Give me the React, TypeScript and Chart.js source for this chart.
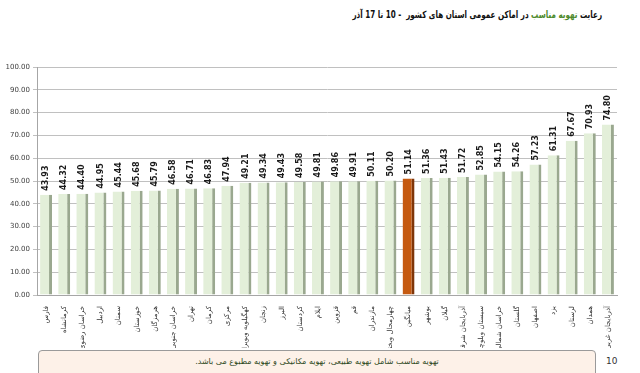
import React, { useEffect, useRef } from "react";
import { Chart, registerables } from "chart.js";

Chart.register(...registerables);

const provinces = [
  "فارس", "کرمانشاه", "خراسان رضوی", "اردبیل", "سمنان", "خوزستان", "هرمزگان",
  "خراسان جنوبی", "تهران", "کرمان", "مرکزی", "کهگیلویه وبویراحمد", "زنجان", "البرز",
  "کردستان", "ایلام", "قزوین", "قم", "مازندران", "چهارمحال وبختیاری", "میانگین",
  "بوشهر", "گیلان", "آذربایجان شرقی", "سیستان وبلوچستان", "خراسان شمالی", "گلستان",
  "اصفهان", "یزد", "لرستان", "همدان", "آذربایجان غربی",
];

const values = [
  43.93, 44.32, 44.4, 44.95, 45.44, 45.68, 45.79, 46.58, 46.71, 46.83, 47.94,
  49.21, 49.34, 49.43, 49.58, 49.81, 49.86, 49.91, 50.11, 50.2, 51.14, 51.36,
  51.43, 51.72, 52.85, 54.15, 54.26, 57.23, 61.31, 67.67, 70.93, 74.8,
];

const highlightLabel = "میانگین";
const yMin = 0;
const yMax = 100;
const yStep = 10;

const titleBlack1 = "رعایت ";
const titleGreen = "تهویه مناسب";
const titleBlack2 = " در اماکن عمومی استان های کشور  - 10 تا 17 آذر";
const noteText = "تهویه مناسب شامل تهویه طبیعی، تهویه مکانیکی و تهویه مطبوع می باشد.";
const pageNumber = "10";

const valueLabelPlugin = {
  id: "valueLabels",
  afterDraw(chart: any) {
    const ctx: CanvasRenderingContext2D = chart.ctx;
    const meta = chart.getDatasetMeta(0);
    ctx.save();
    ctx.font = "bold 8px 'DejaVu Sans'";
    ctx.fillStyle = "#1a1a1a";
    ctx.textAlign = "left";
    ctx.textBaseline = "middle";
    meta.data.forEach((bar: any, i: number) => {
      const v = chart.data.datasets[0].data[i] as number;
      ctx.save();
      ctx.translate(bar.x, bar.y - 4);
      ctx.rotate(-Math.PI / 2);
      ctx.fillText(v.toFixed(2), 0, 0);
      ctx.restore();
    });
    ctx.restore();
  },
};

export default function App() {
  const ref = useRef<HTMLCanvasElement | null>(null);

  useEffect(() => {
    document.body.style.margin = "0";
    const canvas = ref.current;
    if (!canvas) return;
    const bg = provinces.map((p) => (p === highlightLabel ? "#c55a11" : "#e3efd9"));
    const bd = provinces.map((p) => (p === highlightLabel ? "#7f3508" : "#9aa88f"));
    const chart = new Chart(canvas, {
      type: "bar",
      data: {
        labels: provinces,
        datasets: [
          {
            data: values,
            backgroundColor: bg,
            borderColor: bd,
            borderWidth: { top: 0, right: 3, bottom: 0, left: 0 } as any,
            borderSkipped: false as any,
            barPercentage: 0.66,
            categoryPercentage: 1,
          },
        ],
      },
      options: {
        responsive: false,
        animation: false,
        maintainAspectRatio: false,
        layout: { padding: { top: 17, right: 23, left: 0, bottom: 0 } },
        plugins: { legend: { display: false }, tooltip: { enabled: false }, title: { display: false } },
        scales: {
          x: {
            grid: { display: false },
            border: { display: true, color: "#a6a6a6" },
            ticks: {
              autoSkip: false,
              minRotation: 90,
              maxRotation: 90,
              color: "#333333",
              font: { family: "'DejaVu Sans'", size: 7 },
              padding: 3,
            },
            afterFit: (s: any) => {
              s.height = 53;
            },
          },
          y: {
            min: yMin,
            max: yMax,
            ticks: {
              stepSize: yStep,
              color: "#404040",
              font: { family: "'DejaVu Sans'", size: 7 },
              callback: (v: any) => Number(v).toFixed(2),
              padding: 3,
            },
            grid: { color: "#c0c0c0", tickLength: 4, lineWidth: 1 },
            border: { display: true, color: "#a6a6a6" },
            afterFit: (s: any) => {
              s.width = 37;
            },
          },
        },
      },
      plugins: [valueLabelPlugin],
    });
    return () => chart.destroy();
  }, []);

  return (
    <div style={{ position: "relative", width: 640, height: 373, overflow: "hidden", background: "#ffffff", fontFamily: "'DejaVu Sans', sans-serif" }}>
      <div
        style={{
          position: "absolute",
          top: 9,
          right: 38,
          direction: "rtl",
          fontWeight: "bold",
          fontSize: 10,
          fontFamily: "'DejaVu Sans Condensed', 'DejaVu Sans', sans-serif",
          color: "#111111",
          whiteSpace: "pre",
          transform: "scaleX(0.8)",
          transformOrigin: "100% 50%",
        }}
      >
        {titleBlack1}
        <span style={{ color: "#4e8a2c" }}>{titleGreen}</span>
        {titleBlack2}
      </div>
      <canvas ref={ref} width={640} height={298} style={{ position: "absolute", left: 0, top: 50, width: 640, height: 298 }} />
      <div
        style={{
          position: "absolute",
          left: 38,
          top: 350,
          width: 558,
          height: 30,
          border: "1px solid #9a9a9a",
          borderRadius: 4,
          background: "#fdf1e8",
          boxSizing: "border-box",
        }}
      >
        <div
          style={{
            direction: "rtl",
            textAlign: "center",
            fontSize: 8,
            color: "#2f4a1e",
            marginTop: 6,
          }}
        >
          {noteText}
        </div>
      </div>
      <div style={{ position: "absolute", left: 606, top: 356, fontSize: 9, color: "#333" }}>{pageNumber}</div>
    </div>
  );
}
